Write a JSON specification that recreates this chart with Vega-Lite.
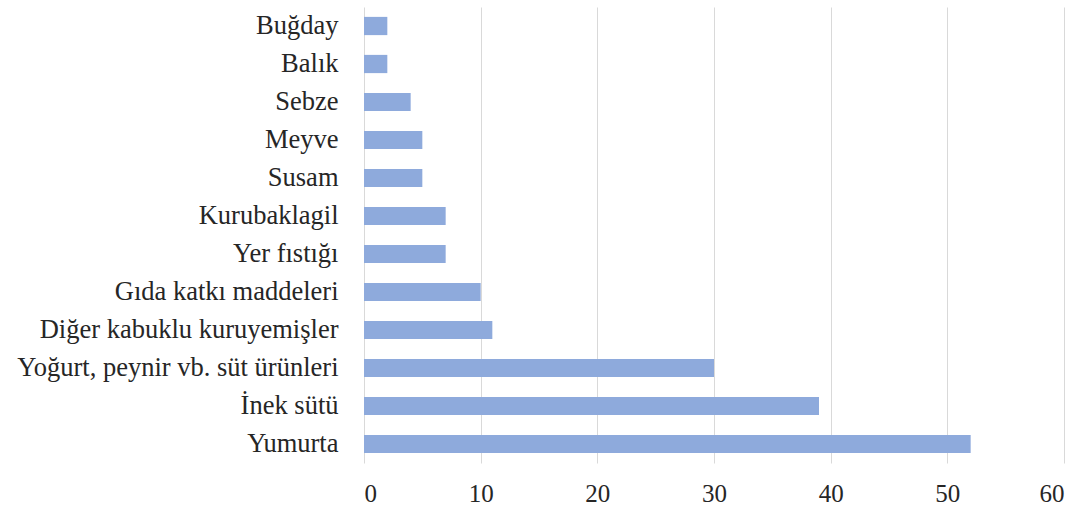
{
  "$schema": "https://vega.github.io/schema/vega-lite/v6.json",
  "autosize": "none",
  "width": 700,
  "height": 456,
  "padding": {"left": 364, "top": 7, "right": 19, "bottom": 46},
  "background": "white",
  "config": {
    "view": {"stroke": null},
    "font": "Liberation Serif"
  },
  "data": {
    "values": [
      {"kategori": "Buğday", "deger": 2},
      {"kategori": "Balık", "deger": 2},
      {"kategori": "Sebze", "deger": 4},
      {"kategori": "Meyve", "deger": 5},
      {"kategori": "Susam", "deger": 5},
      {"kategori": "Kurubaklagil", "deger": 7},
      {"kategori": "Yer fıstığı", "deger": 7},
      {"kategori": "Gıda katkı maddeleri", "deger": 10},
      {"kategori": "Diğer kabuklu kuruyemişler", "deger": 11},
      {"kategori": "Yoğurt, peynir vb. süt ürünleri", "deger": 30},
      {"kategori": "İnek sütü", "deger": 39},
      {"kategori": "Yumurta", "deger": 52}
    ]
  },
  "mark": {"type": "bar", "color": "#8eaadc"},
  "encoding": {
    "y": {
      "field": "kategori",
      "type": "nominal",
      "sort": null,
      "scale": {"paddingInner": 0.52, "paddingOuter": 0.26},
      "axis": {
        "title": null,
        "domain": false,
        "ticks": false,
        "labelFont": "Liberation Serif",
        "labelFontSize": 26.5,
        "labelColor": "#262626",
        "labelPadding": 26,
        "labelLimit": 400
      }
    },
    "x": {
      "field": "deger",
      "type": "quantitative",
      "scale": {"domain": [0, 60], "nice": false},
      "axis": {
        "title": null,
        "values": [0, 10, 20, 30, 40, 50, 60],
        "domain": false,
        "ticks": false,
        "grid": true,
        "gridColor": "#d9d9d9",
        "gridWidth": 1,
        "labelFont": "Liberation Serif",
        "labelFontSize": 25,
        "labelColor": "#262626",
        "labelPadding": 18
      }
    }
  }
}
